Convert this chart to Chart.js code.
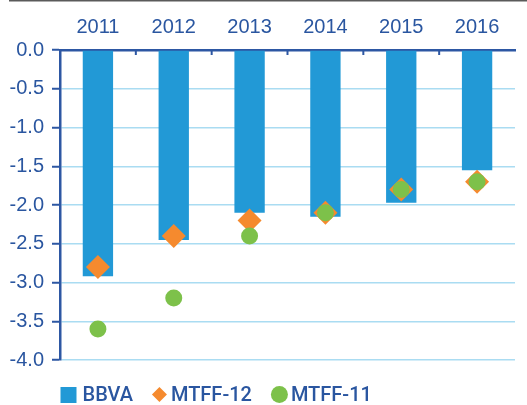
<!DOCTYPE html>
<html>
<head>
<meta charset="utf-8">
<script src="https://cdn.jsdelivr.net/npm/chart.js@4.4.1/dist/chart.umd.min.js"></script>
<style>
  html, body { margin: 0; padding: 0; background: #fff; }
  #wrap { width: 527px; height: 405px; position: relative; }
</style>
</head>
<body>
<div id="wrap"><canvas id="deficitChart"></canvas></div>
<script>
// Data
const years = ['2011', '2012', '2013', '2014', '2015', '2016'];
const bbva = [-2.92, -2.45, -2.1, -2.15, -1.97, -1.55];
const mtff12 = [-2.8, -2.4, -2.2, -2.1, -1.8, -1.7];
const mtff11 = [-3.6, -3.2, -2.4, -2.1, -1.8, -1.7];

const labelColor = '#2a56a0';
const axisColor = '#2d57a3';
const gridColor = '#aadcf2';
const fontFamily = '"Liberation Sans", Arial, sans-serif';
const legendFont = '500 20px Roboto, "Liberation Sans", sans-serif';

// Draws the small inner ticks on the top axis, the legend, and the frame line
const extras = {
    id: 'extras',
    afterDraw(chart) {
        const ctx = chart.ctx;
        const x = chart.scales.x;
        const area = chart.chartArea;
        ctx.save();

        // frame line at the very top
        ctx.strokeStyle = '#5a5a5a';
        ctx.lineWidth = 1.5;
        ctx.beginPath();
        ctx.moveTo(9, 0.75);
        ctx.lineTo(chart.width, 0.75);
        ctx.stroke();

        // inner tick marks at category boundaries
        ctx.strokeStyle = axisColor;
        ctx.lineWidth = 2;
        for (let i = 1; i < years.length; i++) {
            const px = (x.getPixelForValue(i - 1) + x.getPixelForValue(i)) / 2;
            ctx.beginPath();
            ctx.moveTo(px, area.top);
            ctx.lineTo(px, area.top + 5);
            ctx.stroke();
        }

        // legend
        const legendY = 394.5;
        let lx = area.left + 0.5;
        ctx.font = legendFont;
        ctx.textBaseline = 'middle';
        ctx.textAlign = 'left';
        chart.data.datasets.forEach(ds => {
            const style = ds.legendMark;
            ctx.fillStyle = ds.backgroundColor;
            if (style === 'rect') {
                ctx.fillRect(lx, legendY - 7.5, 16, 16);
                lx += 22;
            } else if (style === 'diamond') {
                const cx = lx + 7.5;
                ctx.beginPath();
                ctx.moveTo(cx, legendY - 7.5);
                ctx.lineTo(cx + 7.5, legendY);
                ctx.lineTo(cx, legendY + 7.5);
                ctx.lineTo(cx - 7.5, legendY);
                ctx.closePath();
                ctx.fill();
                lx += 19;
            } else {
                ctx.beginPath();
                ctx.arc(lx + 8.5, legendY, 8.5, 0, Math.PI * 2);
                ctx.fill();
                lx += 20;
            }
            ctx.fillStyle = labelColor;
            ctx.fillText(ds.label, lx, legendY + 1);
            lx += ctx.measureText(ds.label).width + 19;
        });
        ctx.restore();
    }
};

const ctx = document.getElementById('deficitChart').getContext('2d');
const chart = new Chart(ctx, {
    type: 'bar',
    data: {
        labels: years,
        datasets: [{
            label: 'BBVA',
            data: bbva,
            backgroundColor: '#2299d6',
            barPercentage: 0.4,
            categoryPercentage: 1,
            order: 3,
            legendMark: 'rect'
        }, {
            type: 'line',
            label: 'MTFF-12',
            data: mtff12,
            showLine: false,
            backgroundColor: '#f58a2e',
            borderColor: '#f58a2e',
            pointStyle: 'rectRot',
            pointRadius: 12,
            pointBorderWidth: 0,
            order: 2,
            legendMark: 'diamond'
        }, {
            type: 'line',
            label: 'MTFF-11',
            data: mtff11,
            showLine: false,
            backgroundColor: '#7dc14a',
            borderColor: '#7dc14a',
            pointStyle: 'circle',
            pointRadius: 8.5,
            pointBorderWidth: 0,
            order: 1,
            legendMark: 'circle'
        }]
    },
    options: {
        responsive: true,
        maintainAspectRatio: false,
        animation: false,
        layout: {
            padding: { top: 0, right: 0, bottom: 45, left: 0 }
        },
        plugins: {
            legend: { display: false },
            tooltip: { enabled: false }
        },
        scales: {
            x: {
                position: 'top',
                offset: true,
                grid: {
                    display: true,
                    drawOnChartArea: false,
                    drawTicks: false
                },
                border: { color: axisColor, width: 2.5 },
                ticks: {
                    color: labelColor,
                    padding: 11,
                    font: { family: fontFamily, size: 20 }
                },
                afterFit(scale) { scale.height = 50; }
            },
            y: {
                min: -4,
                max: 0,
                ticks: {
                    stepSize: 0.5,
                    color: labelColor,
                    padding: 8,
                    font: { family: fontFamily, size: 20 },
                    callback: v => v.toFixed(1)
                },
                grid: {
                    color: gridColor,
                    lineWidth: 1.5,
                    tickColor: axisColor,
                    tickLength: 8,
                    tickWidth: 2
                },
                border: { color: axisColor, width: 2.5 },
                afterFit(scale) { scale.width = 60; }
            }
        }
    },
    plugins: [extras]
});
</script>
</body>
</html>
